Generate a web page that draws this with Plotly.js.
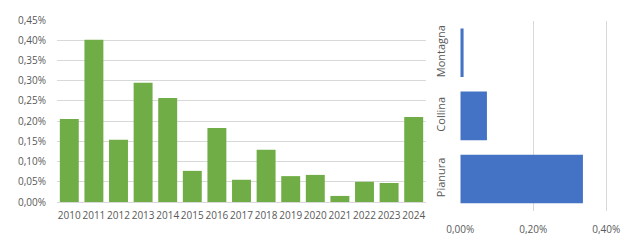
<!DOCTYPE html>
<html>
<head>
<meta charset="utf-8">
<script src="https://cdn.plot.ly/plotly-3.0.1.min.js"></script>
<style>html,body{margin:0;padding:0;background:#fff;}#chart{width:630px;height:240px;}</style>
</head>
<body>
<div id="chart"></div>
<script>
const years = ['2010','2011','2012','2013','2014','2015','2016','2017','2018','2019','2020','2021','2022','2023','2024'];
const yearValues = [0.00205,0.00401,0.00154,0.00295,0.00257,0.00077,0.00183,0.00055,0.00129,0.00064,0.00067,0.00015,0.0005,0.00047,0.0021];
const zones = ['Pianura','Collina','Montagna'];
const zoneValues = [0.00336,0.00073,0.00009];

const txt = '#595959';
const grid = '#D9D9D9';
const fnt = {family:'Open Sans, sans-serif', size:10, color:txt};

const data = [
  {type:'bar', x:years, y:yearValues, xaxis:'x', yaxis:'y', marker:{color:'#70AD47'}, hoverinfo:'x+y'},
  {type:'bar', orientation:'h', y:zones, x:zoneValues, xaxis:'x2', yaxis:'y2', marker:{color:'#4472C4'}, hoverinfo:'x+y'}
];

const layout = {
  width:630, height:240,
  margin:{l:0,r:0,t:0,b:0},
  paper_bgcolor:'#fff', plot_bgcolor:'#fff',
  separators:',.',
  showlegend:false,
  bargap:0.23,
  font:fnt,
  xaxis:{domain:[57/630, 426/630], type:'category', showgrid:false, zeroline:false, tickangle:0,
         showline:true, linecolor:grid, linewidth:1, ticks:'', tickfont:fnt, ticklabelstandoff:4, fixedrange:true},
  yaxis:{domain:[(240-202)/240, (240-20)/240], range:[0,0.0045], dtick:0.0005, tickformat:'.2%',
         showgrid:true, gridcolor:grid, zeroline:false, showline:false, ticks:'', tickfont:fnt, ticklabelstandoff:10, fixedrange:true},
  xaxis2:{domain:[460.3/630, 1], range:[0,0.00465], dtick:0.002, tickformat:'.2%', anchor:'y2', tickangle:0,
          showgrid:true, gridcolor:grid, zeroline:false, showline:false, ticks:'', tickfont:fnt, ticklabelstandoff:11, fixedrange:true},
  yaxis2:{domain:[(240-210.5)/240, (240-21.3)/240], type:'category', anchor:'x2', showgrid:false, zeroline:false,
          showline:false, ticks:'', tickangle:-90, tickfont:{family:'Open Sans, sans-serif', size:11, color:txt}, ticklabelstandoff:12, fixedrange:true}
};

Plotly.newPlot('chart', data, layout, {displayModeBar:false, staticPlot:true});
</script>
</body>
</html>
